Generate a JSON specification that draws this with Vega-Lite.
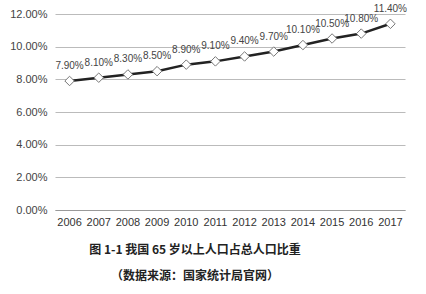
{
  "$schema": "https://vega.github.io/schema/vega-lite/v6.json",
  "autosize": "none",
  "width": 350,
  "height": 196,
  "padding": {"left": 55, "top": 14, "right": 21, "bottom": 84},
  "background": "white",
  "config": {"view": {"stroke": null}},
  "title": {
    "text": "图 1-1 我国 65 岁以上人口占总人口比重",
    "subtitle": "（数据来源：国家统计局官网）",
    "orient": "bottom",
    "anchor": "middle",
    "frame": "group",
    "dx": -35,
    "offset": 18,
    "font": "Noto Sans CJK SC",
    "fontSize": 12,
    "fontWeight": "bold",
    "color": "#222",
    "subtitleFont": "Noto Sans CJK SC",
    "subtitleFontSize": 12,
    "subtitleFontWeight": "bold",
    "subtitleColor": "#222",
    "subtitlePadding": 14
  },
  "data": {
    "values": [
      {"year": "2006", "v": 0.079},
      {"year": "2007", "v": 0.081},
      {"year": "2008", "v": 0.083},
      {"year": "2009", "v": 0.085},
      {"year": "2010", "v": 0.089},
      {"year": "2011", "v": 0.091},
      {"year": "2012", "v": 0.094},
      {"year": "2013", "v": 0.097},
      {"year": "2014", "v": 0.101},
      {"year": "2015", "v": 0.105},
      {"year": "2016", "v": 0.108},
      {"year": "2017", "v": 0.114}
    ]
  },
  "encoding": {
    "x": {
      "field": "year", "type": "ordinal",
      "scale": {"type": "band", "paddingInner": 0, "paddingOuter": 0},
      "axis": {
        "title": null, "labelAngle": 0, "ticks": false, "domain": true,
        "domainColor": "#999", "labelFont": "Liberation Sans", "labelFontSize": 11,
        "labelColor": "#333", "labelPadding": 6
      }
    },
    "y": {
      "field": "v", "type": "quantitative",
      "scale": {"domain": [0, 0.12]},
      "axis": {
        "title": null, "format": ".2%", "values": [0, 0.02, 0.04, 0.06, 0.08, 0.10, 0.12],
        "ticks": false, "domain": false, "gridColor": "#bbb", "gridWidth": 1,
        "labelFont": "Liberation Sans", "labelFontSize": 11, "labelColor": "#444",
        "labelPadding": 8
      }
    }
  },
  "layer": [
    {"mark": {"type": "line", "color": "#222", "strokeWidth": 2.5}},
    {"mark": {"type": "point", "shape": "diamond", "filled": true, "fill": "white", "stroke": "#777", "strokeWidth": 1, "size": 90, "opacity": 1}},
    {
      "mark": {"type": "text", "dy": -15, "font": "Liberation Sans", "fontSize": 10, "color": "#444"},
      "encoding": {"text": {"field": "v", "type": "quantitative", "format": ".2%"}}
    }
  ]
}
